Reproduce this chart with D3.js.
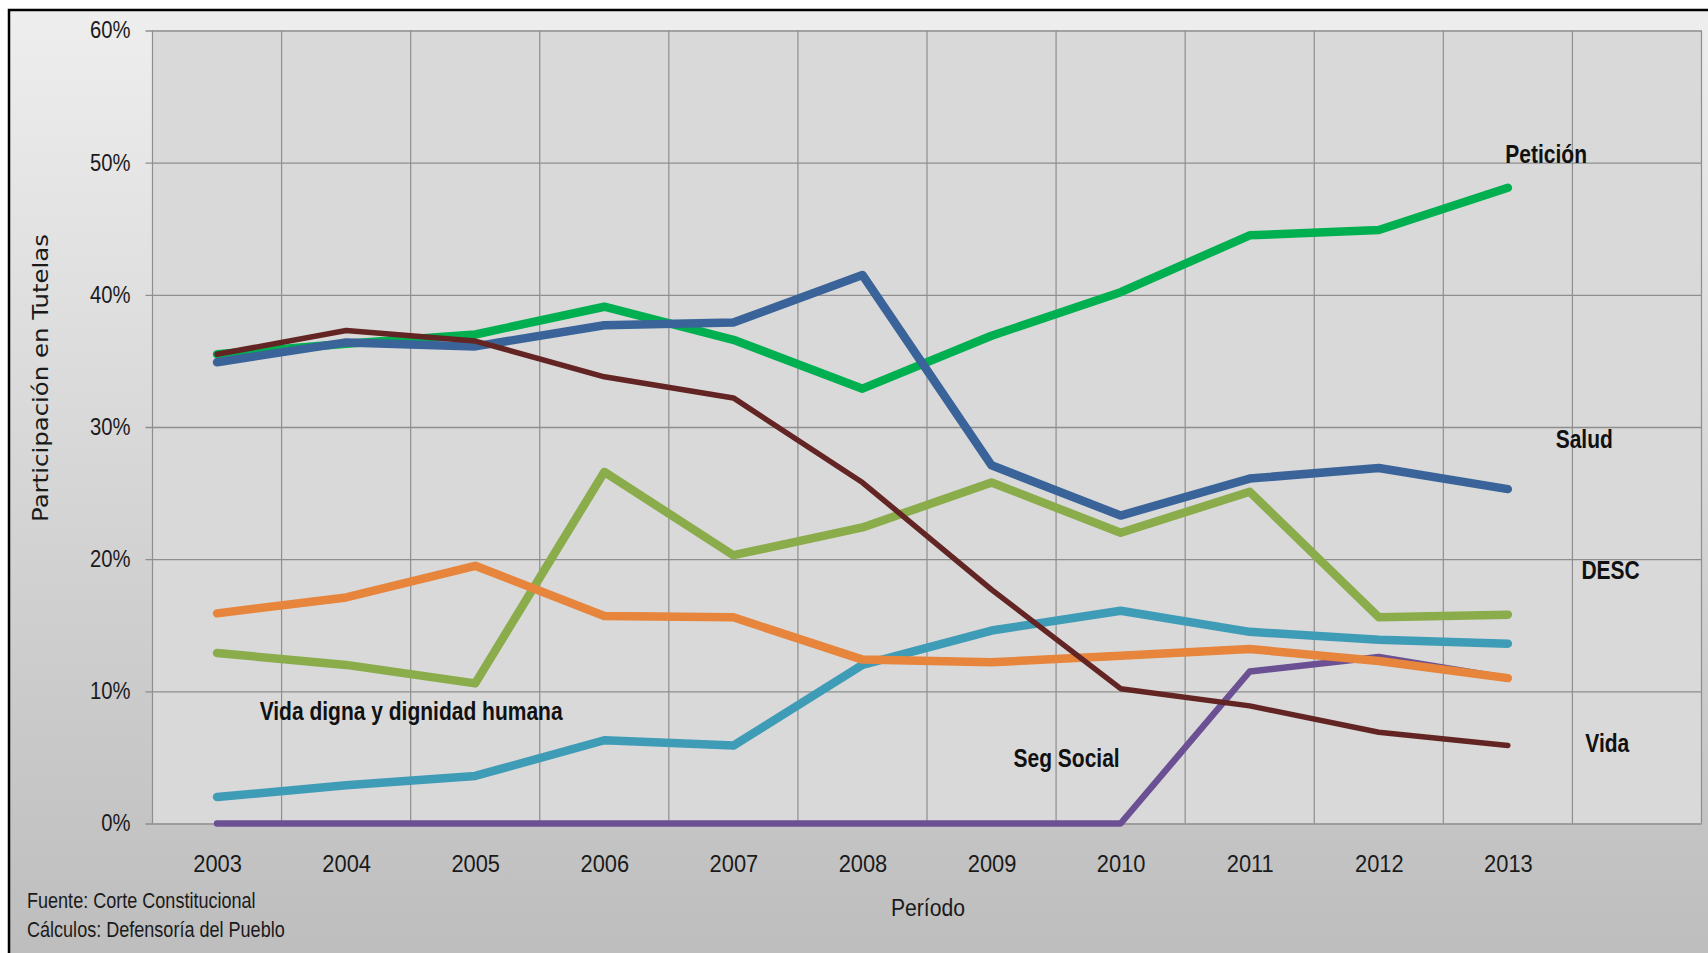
<!DOCTYPE html>
<html>
<head>
<meta charset="utf-8">
<script src="https://cdn.jsdelivr.net/npm/d3@7"></script>
<style>
  body { margin: 0; background: #fff; }
  svg { display: block; }
  .narrow { font-family: "Liberation Sans", Arial, sans-serif; }
</style>
</head>
<body>
<div id="chart"></div>
<script>
var width = 1708;
var height = 953;

// years shown on the x axis (one empty slot at the end, like the original)
var years = ["2003", "2004", "2005", "2006", "2007", "2008", "2009", "2010", "2011", "2012", "2013"];
var yTicks = [0, 10, 20, 30, 40, 50, 60];

// shares in %
var peticion   = [35.5, 36.3, 37.0, 39.1, 36.6, 32.9, 36.9, 40.2, 44.5, 44.9, 48.1];
var salud      = [34.9, 36.4, 36.1, 37.7, 37.9, 41.5, 27.1, 23.3, 26.1, 26.9, 25.3];
var vida       = [35.5, 37.3, 36.5, 33.8, 32.2, 25.8, 17.7, 10.2, 8.9, 6.9, 5.9];
var desc       = [12.9, 12.0, 10.6, 26.6, 20.3, 22.4, 25.8, 22.0, 25.1, 15.6, 15.8];
var vidaDigna  = [15.9, 17.1, 19.5, 15.7, 15.6, 12.4, 12.2, 12.7, 13.2, 12.3, 11.0];
var segSocial  = [2.0, 2.9, 3.6, 6.3, 5.9, 12.0, 14.6, 16.1, 14.5, 13.9, 13.6];
var serie7     = [0, 0, 0, 0, 0, 0, 0, 0, 11.5, 12.6, 11.0];

// drawing order, bottom to top
var series = [
    {values: desc,      color: "#8aac4a", w: 8.5},
    {values: serie7,    color: "#6b5194", w: 6.5},
    {values: segSocial, color: "#3f9cb6", w: 8.5},
    {values: vidaDigna, color: "#e6853b", w: 8.5},
    {values: peticion,  color: "#00b050", w: 8.5},
    {values: salud,     color: "#3a6499", w: 8.5},
    {values: vida,      color: "#632523", w: 5.5}
];

// text labels: [text, x index, value]
var labels = [
    ["Petición", 9.98, 50.0],
    ["Salud", 10.37, 28.4],
    ["DESC", 10.57, 18.5],
    ["Vida", 10.6, 5.4],
    ["Seg Social", 6.17, 4.3],
    ["Vida digna y dignidad humana", 0.33, 7.8]
];

var margin = {left: 152.5, top: 30.5, right: 6.5, bottom: 129.5};
var w = width - margin.left - margin.right;
var h = height - margin.top - margin.bottom;

// squeeze text horizontally to get the narrow look of the original font
function condense(sel, k) {
    sel.each(function() {
        var len = this.getComputedTextLength();
        d3.select(this)
            .attr("textLength", len * k)
            .attr("lengthAdjust", "spacingAndGlyphs");
    });
}

var svg = d3.select("#chart").append("svg")
    .attr("width", width)
    .attr("height", height);

var defs = svg.append("defs");
var grad = defs.append("linearGradient")
    .attr("id", "bg").attr("x1", 0).attr("y1", 0).attr("x2", 0).attr("y2", 1);
grad.append("stop").attr("offset", "0%").attr("stop-color", "#eeeeee");
grad.append("stop").attr("offset", "100%").attr("stop-color", "#bcbcbc");

// outer frame
svg.append("rect")
    .attr("x", 9).attr("y", 10)
    .attr("width", width + 20).attr("height", height + 20)
    .attr("fill", "url(#bg)")
    .attr("stroke", "#000")
    .attr("stroke-width", 2.5);

var g = svg.append("g")
    .attr("transform", "translate(" + margin.left + "," + margin.top + ")");

var x = d3.scaleLinear().domain([-0.5, 11.5]).range([0, w]);
var y = d3.scaleLinear().domain([0, 60]).range([h, 0]);

g.append("rect")
    .attr("width", w).attr("height", h)
    .attr("fill", "#d9d9d9");

// vertical gridlines on the category borders
g.append("g")
    .selectAll("line")
    .data(d3.range(13))
    .enter().append("line")
    .attr("x1", function(d) { return x(d - 0.5); })
    .attr("x2", function(d) { return x(d - 0.5); })
    .attr("y1", 0).attr("y2", h)
    .attr("stroke", "#8e8e8e")
    .attr("stroke-width", 1.2);

// y axis with gridlines
var yAxis = g.append("g")
    .attr("class", "narrow")
    .call(d3.axisLeft(y)
        .tickValues(yTicks)
        .tickSize(-w - 7)
        .tickFormat(function(d) { return d + "%"; }))
    .attr("transform", "translate(" + w + ",0)");
yAxis.select(".domain").remove();
yAxis.selectAll(".tick line")
    .attr("x2", -w - 7)
    .attr("stroke", "#8e8e8e")
    .attr("stroke-width", 1.3);
yAxis.selectAll(".tick text")
    .attr("x", -w - 22)
    .attr("fill", "#1a1a1a")
    .style("font-size", "23px")
    .call(condense, 0.88);

// x axis labels
var xAxis = g.append("g")
    .attr("class", "narrow")
    .attr("transform", "translate(0," + h + ")")
    .call(d3.axisBottom(x)
        .tickValues(d3.range(years.length))
        .tickSize(0)
        .tickFormat(function(d) { return years[d]; }));
xAxis.select(".domain").remove();
xAxis.selectAll(".tick text")
    .attr("y", 48)
    .attr("dy", 0)
    .attr("fill", "#1a1a1a")
    .style("font-size", "23px")
    .call(condense, 0.95);

// lines
var line = d3.line()
    .x(function(d, i) { return x(i); })
    .y(function(d) { return y(d); });

g.append("g")
    .selectAll("path")
    .data(series)
    .enter().append("path")
    .attr("d", function(d) { return line(d.values); })
    .attr("fill", "none")
    .attr("stroke", function(d) { return d.color; })
    .attr("stroke-width", function(d) { return d.w; })
    .attr("stroke-linecap", "round")
    .attr("stroke-linejoin", "round");

// series labels
g.append("g")
    .selectAll("text")
    .data(labels)
    .enter().append("text")
    .attr("class", "narrow")
    .attr("x", function(d) { return x(d[1]); })
    .attr("y", function(d) { return y(d[2]); })
    .attr("font-weight", "bold")
    .attr("font-size", 25)
    .attr("fill", "#111")
    .text(function(d) { return d[0]; })
    .call(condense, 0.84);

// axis titles
svg.append("text")
    .attr("transform", "translate(48,378) rotate(-90)")
    .attr("text-anchor", "middle")
    .attr("font-family", "DejaVu Sans, sans-serif")
    .attr("font-size", 22)
    .attr("fill", "#1a1a1a")
    .attr("textLength", 288)
    .attr("lengthAdjust", "spacingAndGlyphs")
    .text("Participación en Tutelas");

svg.append("text")
    .attr("class", "narrow")
    .attr("x", 928).attr("y", 916)
    .attr("text-anchor", "middle")
    .attr("font-size", 23)
    .attr("fill", "#1a1a1a")
    .text("Período")
    .call(condense, 0.92);

svg.append("text")
    .attr("class", "narrow")
    .attr("x", 27).attr("y", 908)
    .attr("font-size", 22)
    .attr("fill", "#1a1a1a")
    .text("Fuente: Corte Constitucional")
    .call(condense, 0.82);

svg.append("text")
    .attr("class", "narrow")
    .attr("x", 27).attr("y", 937)
    .attr("font-size", 22)
    .attr("fill", "#1a1a1a")
    .text("Cálculos: Defensoría del Pueblo")
    .call(condense, 0.82);
</script>
</body>
</html>
